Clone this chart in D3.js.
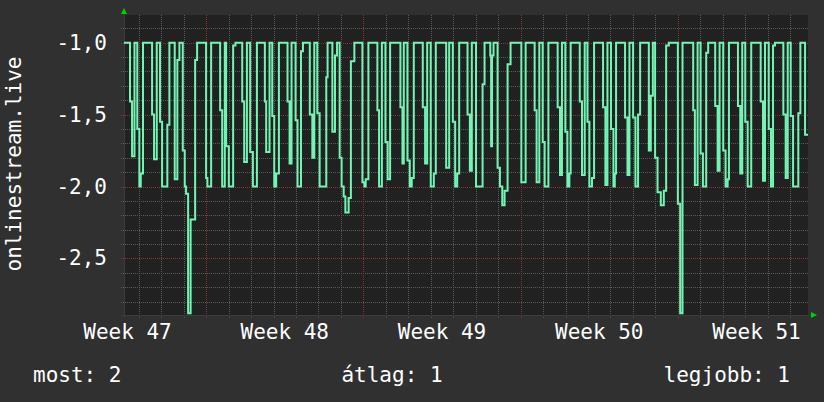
<!DOCTYPE html>
<html><head><meta charset="utf-8">
<script src="https://cdn.jsdelivr.net/npm/d3@7"></script>
<style>
html,body{margin:0;padding:0;background:#303030;}
svg{display:block;}
text{font-family:"DejaVu Sans Mono",monospace;fill:#ffffff;}
</style></head>
<body>
<svg id="chart" width="824" height="402"></svg>
<script>
// ---- data ----
const startDate = "2019-11-14T08:15:00Z";
const endDate = "2019-12-14T19:00:00Z";
// hours after startDate at which the value changes (step data)
const hours = [0,6.4,8.6,11.2,14.2,16.4,17.9,20.3,30.0,32.1,35.0,38.5,40.7,46.3,48.5,54.2,57.0,59.2,62.8,64.9,66.3,68.5,71.2,76.0,78.1,87.7,89.1,93.1,102.7,104.9,107.7,109.1,112.0,116.6,119.1,126.3,128.4,131.3,134.8,137.7,142.0,150.5,151.9,155.5,158.4,160.5,162.6,165.5,174.7,176.9,179.0,183.3,185.4,189.1,191.2,198.5,201.2,203.3,206.5,209.0,216.1,217.5,222.6,225.4,227.6,230.4,232.5,234.7,236.5,240.0,242.4,246.1,254.7,256.8,258.2,261.1,270.7,272.5,275.5,279.3,281.7,284.3,295.3,297.5,298.9,302.8,305.3,307.4,309.6,319.2,321.7,323.9,327.7,331.0,333.1,344.2,347.4,351.3,353.8,356.0,358.1,367.0,369.5,371.6,376.1,383.1,385.2,391.3,392.2,393.2,394.8,399.1,401.6,404.1,406.6,409.8,413.0,424.5,429.1,438.7,440.8,443.7,447.3,449.4,453.4,463.3,465.8,467.9,471.5,473.7,475.8,477.2,486.9,489.3,492.2,495.1,497.2,500.0,502.2,511.8,514.3,516.5,520.3,522.9,524.3,525.7,535.3,537.9,540.0,543.9,546.4,549.2,551.4,560.7,562.8,565.0,567.4,570.0,573.5,576.7,579.2,582.1,591.7,594.2,596.7,608.1,609.9,612.8,616.0,618.5,622.0,624.1,631.6,634.2,636.3,640.2,642.7,644.9,646.3,655.9,658.4,660.5,663.7,666.3,670.1,680.2,682.7,684.8,688.8,691.2,693.4,695.5,704.4,706.9,709.1,712.3,714.8,720.4,722.6,727.6,730.8];
const values = [-1.0,-1.41,-1.79,-1.0,-1.6,-2.0,-1.91,-1.0,-1.5,-1.81,-1.0,-1.55,-2.0,-1.57,-1.0,-1.95,-1.12,-1.0,-1.75,-2.0,-2.05,-2.88,-2.23,-1.12,-1.0,-1.94,-2.0,-1.0,-1.47,-2.0,-1.0,-1.72,-2.0,-1.02,-1.0,-1.41,-1.83,-1.0,-1.76,-2.0,-1.0,-1.41,-1.76,-1.0,-1.51,-2.0,-1.91,-1.0,-1.41,-1.84,-1.0,-1.54,-2.0,-1.06,-1.0,-1.5,-1.80,-1.0,-1.49,-2.0,-1.24,-1.0,-1.62,-1.09,-1.0,-1.80,-2.0,-2.07,-2.18,-2.08,-1.13,-1.0,-1.97,-2.0,-1.95,-1.0,-1.47,-2.0,-1.0,-1.69,-1.95,-1.0,-1.45,-1.84,-1.0,-1.82,-2.0,-1.94,-1.0,-1.45,-1.84,-1.0,-2.0,-1.91,-1.0,-1.87,-1.0,-1.55,-2.0,-1.91,-1.0,-1.5,-1.89,-1.0,-2.0,-1.29,-1.0,-1.09,-1.72,-1.09,-1.0,-1.87,-2.0,-2.13,-2.03,-1.15,-1.0,-1.97,-1.0,-1.47,-1.97,-1.0,-1.69,-2.0,-1.0,-1.45,-1.92,-1.0,-1.62,-2.0,-1.91,-1.0,-1.41,-1.92,-1.0,-1.55,-2.0,-1.94,-1.0,-1.45,-1.99,-1.0,-1.6,-2.0,-1.91,-1.0,-1.52,-1.92,-1.0,-1.52,-2.0,-1.5,-1.0,-1.75,-1.37,-1.0,-1.80,-2.04,-2.13,-2.03,-1.02,-1.0,-2.12,-2.88,-1.0,-1.47,-1.99,-1.0,-1.77,-2.0,-1.07,-1.0,-1.44,-1.89,-1.0,-1.75,-2.0,-1.95,-1.0,-1.44,-1.91,-1.0,-1.55,-2.0,-1.0,-1.41,-1.96,-1.0,-1.6,-2.0,-1.02,-1.0,-1.5,-1.94,-1.0,-1.51,-2.0,-1.49,-1.0,-1.64,-1.64];
const yTicks = [-1.0, -1.5, -2.0, -2.5];
const yTickLabels = ["-1,0", "-1,5", "-2,0", "-2,5"];
const weekStarts = ["2019-11-18T00:00:00Z","2019-11-25T00:00:00Z","2019-12-02T00:00:00Z","2019-12-09T00:00:00Z"];
const weekLabelDates = ["2019-11-14T12:00:00Z","2019-11-21T12:00:00Z","2019-11-28T12:00:00Z","2019-12-05T12:00:00Z","2019-12-12T12:00:00Z"];
const weekLabels = ["Week 47","Week 48","Week 49","Week 50","Week 51"];
const yTitle = "onlinestream.live";
const legendItems = ["most: 2", "átlag: 1", "legjobb: 1"];
const yDomain = [-2.893, -0.808];

// ---- layout ----
const W = 824, H = 402;
const m = {left:124, top:15, right:16, bottom:87};
const pw = W - m.left - m.right, ph = H - m.top - m.bottom;
const svg = d3.select("#chart");
svg.append("rect").attr("width",W).attr("height",H).attr("fill","#303030");
const g = svg.append("g").attr("transform",`translate(${m.left},${m.top})`);
g.append("rect").attr("width",pw).attr("height",ph).attr("fill","#212121");

const t0 = new Date(startDate);
const x = d3.scaleUtc().domain([t0, new Date(endDate)]).range([0,pw]);
const y = d3.scaleLinear().domain(yDomain).range([ph,0]);

const weekSet = new Set(weekStarts.map(d => +new Date(d)));
// minor grid
const minorY = d3.range(-28, -8).map(v => v/10).filter(v => Math.abs(v*2 - Math.round(v*2)) > 1e-6);
g.append("g").selectAll("line").data(minorY).join("line")
  .attr("x1",-3).attr("x2",pw).attr("y1",d=>Math.round(y(d))+0.5).attr("y2",d=>Math.round(y(d))+0.5)
  .attr("stroke","#5a5a5a").attr("stroke-dasharray","1,1");
const days = d3.utcDay.range(x.domain()[0], x.domain()[1]).filter(d => !weekSet.has(+d));
g.append("g").selectAll("line").data(days).join("line")
  .attr("x1",d=>Math.round(x(d))+0.5).attr("x2",d=>Math.round(x(d))+0.5).attr("y1",0).attr("y2",ph+3)
  .attr("stroke","#5a5a5a").attr("stroke-dasharray","1,1");
// major grid
g.append("g").selectAll("line").data(yTicks).join("line")
  .attr("x1",-3).attr("x2",pw).attr("y1",d=>Math.round(y(d))+0.5).attr("y2",d=>Math.round(y(d))+0.5)
  .attr("stroke","#8a3434").attr("stroke-dasharray","1,1");
g.append("g").selectAll("line").data(weekStarts.map(d=>new Date(d))).join("line")
  .attr("x1",d=>Math.round(x(d))+0.5).attr("x2",d=>Math.round(x(d))+0.5).attr("y1",0).attr("y2",ph+3)
  .attr("stroke","#8a3434").attr("stroke-dasharray","1,1");

// axes lines
g.append("line").attr("x1",-3).attr("x2",pw+3).attr("y1",ph+0.5).attr("y2",ph+0.5).attr("stroke","#3c3c3c");
g.append("line").attr("x1",0.5).attr("x2",0.5).attr("y1",-3).attr("y2",ph+3).attr("stroke","#3c3c3c");
// arrows
g.append("path").attr("d",`M-3,-1 L3,-1 L0,-7 Z`).attr("fill","#00d000");
g.append("path").attr("d",`M${pw+3},${ph-3} L${pw+3},${ph+3} L${pw+9},${ph} Z`).attr("fill","#00d000");

// data line
const pts = hours.map((h,i)=>({t:new Date(t0.getTime()+h*3600e3), v:values[i]}));
g.append("path").datum(pts)
  .attr("d", d3.line().x(d=>x(d.t)).y(d=>y(d.v)).curve(d3.curveStepAfter))
  .attr("fill","none").attr("stroke","#72f5b4").attr("stroke-width",2).attr("stroke-linejoin","miter");

// y tick labels
const fs = 21;
g.append("g").selectAll("text").data(yTicks).join("text")
  .attr("x",-17).attr("y",d=>y(d)).attr("text-anchor","end").attr("dominant-baseline","central")
  .attr("font-size",fs).text((d,i)=>yTickLabels[i]);
// week labels
g.append("g").selectAll("text").data(weekLabelDates.map(d=>new Date(d))).join("text")
  .attr("x",d=>x(d)).attr("y",ph+24).attr("text-anchor","middle").attr("font-size",fs)
  .text((d,i)=>weekLabels[i]);
// y title
svg.append("text").attr("transform","translate(21,164) rotate(-90)").attr("text-anchor","middle")
  .attr("font-size",fs).text(yTitle);
// legend
const legendX = [33, 392, 790], legendAnchor = ["start","middle","end"];
svg.append("g").selectAll("text").data(legendItems).join("text")
  .attr("x",(d,i)=>legendX[i]).attr("y",382).attr("text-anchor",(d,i)=>legendAnchor[i])
  .attr("font-size",fs).text(d=>d);
</script>
</body></html>
